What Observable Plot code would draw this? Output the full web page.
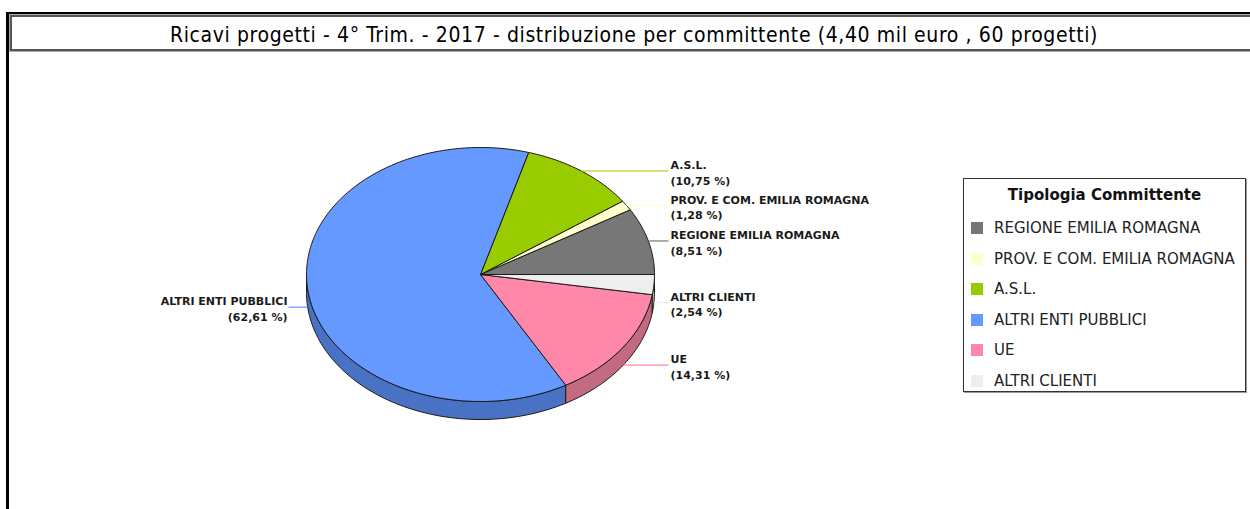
<!DOCTYPE html>
<html>
<head>
<meta charset="utf-8">
<script src="https://cdn.jsdelivr.net/npm/d3@7"></script>
<script src="https://cdn.jsdelivr.net/npm/@observablehq/plot@0.6"></script>
<style>
  html, body { margin: 0; padding: 0; background: #fff; }
  #page { position: relative; width: 1250px; height: 509px; overflow: hidden; background: #fff; }
  #frame { position: absolute; left: 6px; top: 12px; width: 1400px; height: 600px; border-left: 3px solid #000; border-top: 3px solid #000; box-sizing: border-box; }
  #title { position: absolute; left: 10px; top: 15px; width: 1300px; height: 36px; box-sizing: border-box;
           border: 2px solid #555; outline: 1px solid #aaa; outline-offset: 0px; }
  #titleText { position: absolute; left: 0; top: 35px; transform: translateY(-50%); white-space: nowrap;
           font-family: "DejaVu Sans Condensed", "DejaVu Sans", sans-serif; font-size: 21px; color: #000; }
  #chart { position: absolute; left: 0; top: 52px; }
  #legend { position: absolute; left: 963px; top: 178px; width: 283px; height: 214px; box-sizing: border-box;
            border: 1px solid #333; box-shadow: 1px 1px 0 #999; background: #fff;
            font-family: "DejaVu Sans", sans-serif; color: #222; }
  #legend .lt { text-align: center; font-weight: bold; font-size: 15px; margin-top: 7px; height: 22px; color: #111; }
  #legend .row { position: absolute; left: 7px; height: 18px; display: flex; align-items: center; font-size: 15px; }
  #legend .sw { width: 12px; height: 12px; margin-right: 11px; }
</style>
</head>
<body>
<div id="page">
  <div id="frame"></div>
  <div id="title"></div>
  <div id="titleText"></div>
  <div id="chart"></div>
  <div id="legend"><div class="lt"></div></div>
</div>
<script>
const chartTitle = "Ricavi progetti - 4° Trim. - 2017 - distribuzione per committente (4,40 mil euro , 60 progetti)";
const legendTitle = "Tipologia Committente";
const categories = ["REGIONE EMILIA ROMAGNA", "PROV. E COM. EMILIA ROMAGNA", "A.S.L.", "ALTRI ENTI PUBBLICI", "UE", "ALTRI CLIENTI"];
const shares = [8.51, 1.28, 10.75, 62.61, 14.31, 2.54];
const colors = ["#777777", "#ffffcc", "#99cc00", "#6699ff", "#ff88aa", "#eeeeee"];
const sideColors = ["#555555", "#cccc99", "#739900", "#4a72c4", "#c46a80", "#b8b8b8"];

// layout (pixels)
const W = 1250, H = 457;
const cx = 480, cy = 222, rx = 174, ry = 127, depthPx = 18;
const rightColPx = 668, leftColPx = 288;
const titleLeft = 170, titleWidth = 928;

// title, fitted to its span
const tt = document.getElementById("titleText");
tt.textContent = chartTitle;
{
  const w0 = tt.getBoundingClientRect().width;
  const n = chartTitle.length;
  tt.style.letterSpacing = ((titleWidth - w0) / n) + "px";
  tt.style.left = titleLeft + "px";
}

// legend
const legend = document.getElementById("legend");
legend.querySelector(".lt").textContent = legendTitle;
categories.forEach((c, i) => {
  const row = document.createElement("div");
  row.className = "row";
  row.style.top = (40 + i * 30.6) + "px";
  const sw = document.createElement("div");
  sw.className = "sw";
  sw.style.background = colors[i];
  const t = document.createElement("span");
  t.textContent = c;
  row.appendChild(sw); row.appendChild(t);
  legend.appendChild(row);
});

// pie geometry in unit coordinates (x = cos, y = sin, up positive)
const depth = depthPx / ry;
const arcs = d3.pie().sort(null).startAngle(0).endAngle(2 * Math.PI)(shares);
function arcPts(a1, a2) {
  const n = Math.max(2, Math.ceil((a2 - a1) / (Math.PI / 180)));
  return d3.range(n + 1).map(j => a1 + (a2 - a1) * j / n);
}

const marks = [];
// sides (front half only)
arcs.forEach((a, i) => {
  const a1 = Math.max(a.startAngle, Math.PI), a2 = Math.min(a.endAngle, 2 * Math.PI);
  if (a2 <= a1) return;
  const angs = arcPts(a1, a2);
  const top = angs.map(t => ({x: Math.cos(t), y: Math.sin(t)}));
  const bot = angs.slice().reverse().map(t => ({x: Math.cos(t), y: Math.sin(t) - depth}));
  const poly = [...top, ...bot, top[0]];
  marks.push(Plot.line(poly, {x: "x", y: "y", fill: sideColors[i], stroke: "#1a1a1a", strokeWidth: 1, strokeLinejoin: "round"}));
});
// top faces
arcs.forEach((a, i) => {
  const angs = arcPts(a.startAngle, a.endAngle);
  const poly = [{x: 0, y: 0}, ...angs.map(t => ({x: Math.cos(t), y: Math.sin(t)})), {x: 0, y: 0}];
  marks.push(Plot.line(poly, {x: "x", y: "y", fill: colors[i], stroke: "#1a1a1a", strokeWidth: 1, strokeLinejoin: "round"}));
});

// labels and leader lines
const fmt = v => v.toFixed(2).replace(".", ",");
const labels = arcs.map((a, i) => {
  const m = (a.startAngle + a.endAngle) / 2;
  const s = Math.sin(m), c = Math.cos(m);
  const ay = s < 0 ? s - depth : s;
  const right = c > 0;
  const ex = right ? (rightColPx - cx) / rx : (leftColPx - cx) / rx;
  return {
    x1: c, y1: ay, x2: ex, y2: ay,
    tx: right ? ex + 2 / rx : ex - 1 / rx,
    anchor: right ? "start" : "end",
    text: categories[i] + "\n(" + fmt(shares[i]) + " %)",
    color: colors[i]
  };
});
labels.forEach(l => {
  marks.push(Plot.link([l], {x1: "x1", y1: "y1", x2: "x2", y2: "y2", stroke: l.color, strokeWidth: 1.2}));
});
const labelStyle = {x: "tx", y: "y1", text: "text", lineAnchor: "middle", lineHeight: 1.42, dy: 1, fontSize: 11, fontWeight: "bold", fill: "#1a1a1a", fontFamily: "DejaVu Sans"};
marks.push(Plot.text(labels.filter(l => l.anchor === "start"), {...labelStyle, textAnchor: "start"}));
marks.push(Plot.text(labels.filter(l => l.anchor === "end"), {...labelStyle, textAnchor: "end"}));

const chart = Plot.plot({
  width: W, height: H, margin: 0,
  x: {type: "linear", domain: [-cx / rx, (W - cx) / rx], range: [0, W], axis: null},
  y: {type: "linear", domain: [cy / ry, -(H - cy) / ry], range: [0, H], axis: null},
  style: {background: "transparent", overflow: "visible"},
  marks
});
document.getElementById("chart").appendChild(chart);
</script>
</body>
</html>
